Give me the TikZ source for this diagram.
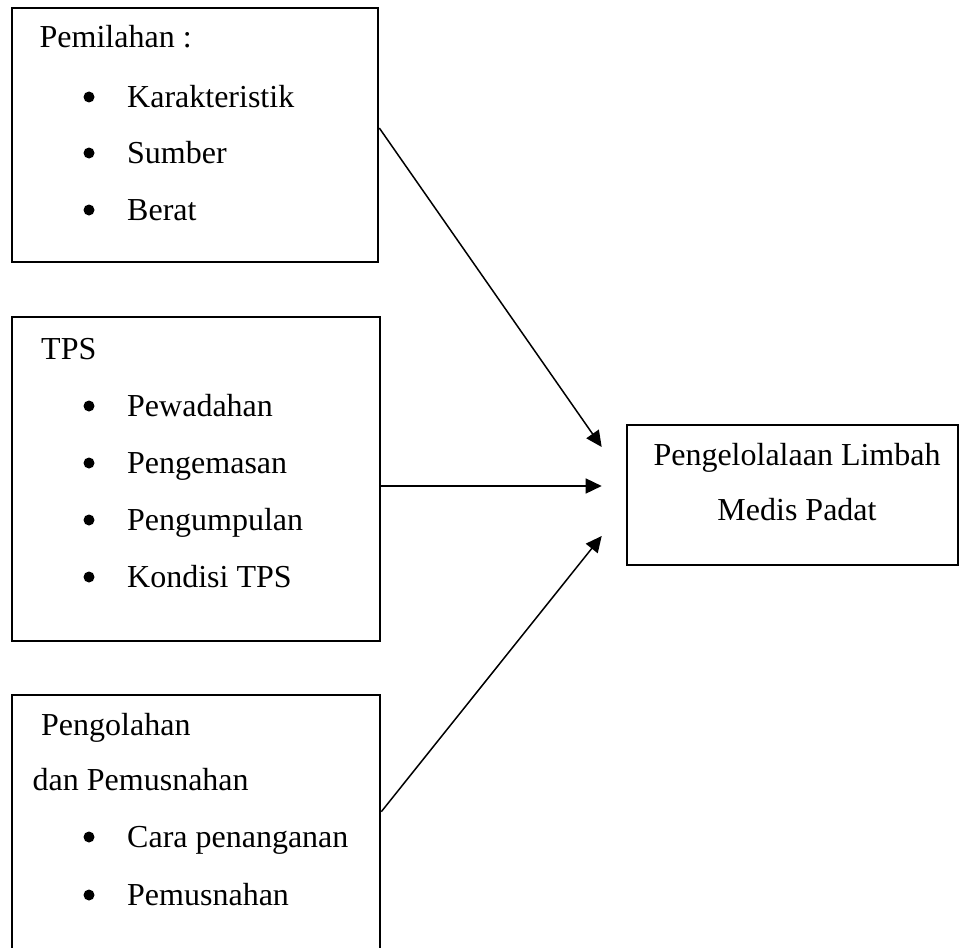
\documentclass[tikz,border=0pt]{standalone}
\usepackage{fontspec}
\setmainfont{Liberation Serif}
\usetikzlibrary{arrows.meta,calc}

\tikzset{
  kotak/.style={draw,line width=2.6pt,inner sep=0pt},
  isi/.style={anchor=base west,inner sep=0pt,font=\fontsize{32}{38}\selectfont},
  tengah/.style={anchor=base,inner sep=0pt,font=\fontsize{32}{38}\selectfont},
  butir/.style={circle,fill,inner sep=0pt,minimum size=11pt},
  panah/.style={line width=1.5pt,-{Triangle[length=16pt,width=15pt]}}
}

\begin{document}
\begin{tikzpicture}[x=1pt,y=-1pt]
  \useasboundingbox (0,0) rectangle (960,947);
  \clip (0,0) rectangle (960,947);
  % kotak-kotak
  \node[kotak,minimum width=366pt,minimum height=254pt] (pilah) at (195,135) {};
  \node[kotak,minimum width=368pt,minimum height=324pt] (tps) at (196,479) {};
  \node[kotak,minimum width=368pt,minimum height=305pt] (olah) at (196,847.5) {};
  \node[kotak,minimum width=331pt,minimum height=140pt] (sampah) at (792.5,495) {};
  % judul
  \node[isi] (jpilah) at (39.5,48) {Pemilahan :};
  \node[isi] (jtps) at (41,359) {TPS};
  \node[isi] (jolah) at (41,735) {Pengolahan};
  \node[isi] (jolah2) at (32.5,790) {dan Pemusnahan};
  \node[tengah] (jsampah) at (797,465) {Pengelolalaan Limbah};
  \node[tengah] (jsampah2) at (797,520) {Medis Padat};
  % butir
  \foreach \teks/\y [count=\i] in {Karakteristik/107,Sumber/163,Berat/220} {
    \node[butir] (bp\i) at (89,\y-10) {};
    \node[isi] (tp\i) at (127,\y) {\teks};
  }
  \foreach \teks/\y [count=\i] in {Pewadahan/416,Pengemasan/473,Pengumpulan/530,Kondisi TPS/587} {
    \node[butir] (bt\i) at (89,\y-10) {};
    \node[isi] (tt\i) at (127,\y) {\teks};
  }
  \foreach \teks/\y [count=\i] in {Cara penanganan/847,Pemusnahan/905} {
    \node[butir] (bo\i) at (89,\y-10) {};
    \node[isi] (to\i) at (127,\y) {\teks};
  }
  % panah
  \draw[panah] ($(pilah.east)+(0,-7)$) -- ($(sampah.west)+(-24,-48)$);
  \draw[panah] ($(tps.east)+(0,7)$) -- ($(sampah.west)+(-24,-9)$);
  \draw[panah] ($(olah.north east)+(0,118)$) -- ($(sampah.west)+(-24,41)$);
\end{tikzpicture}
\end{document}
